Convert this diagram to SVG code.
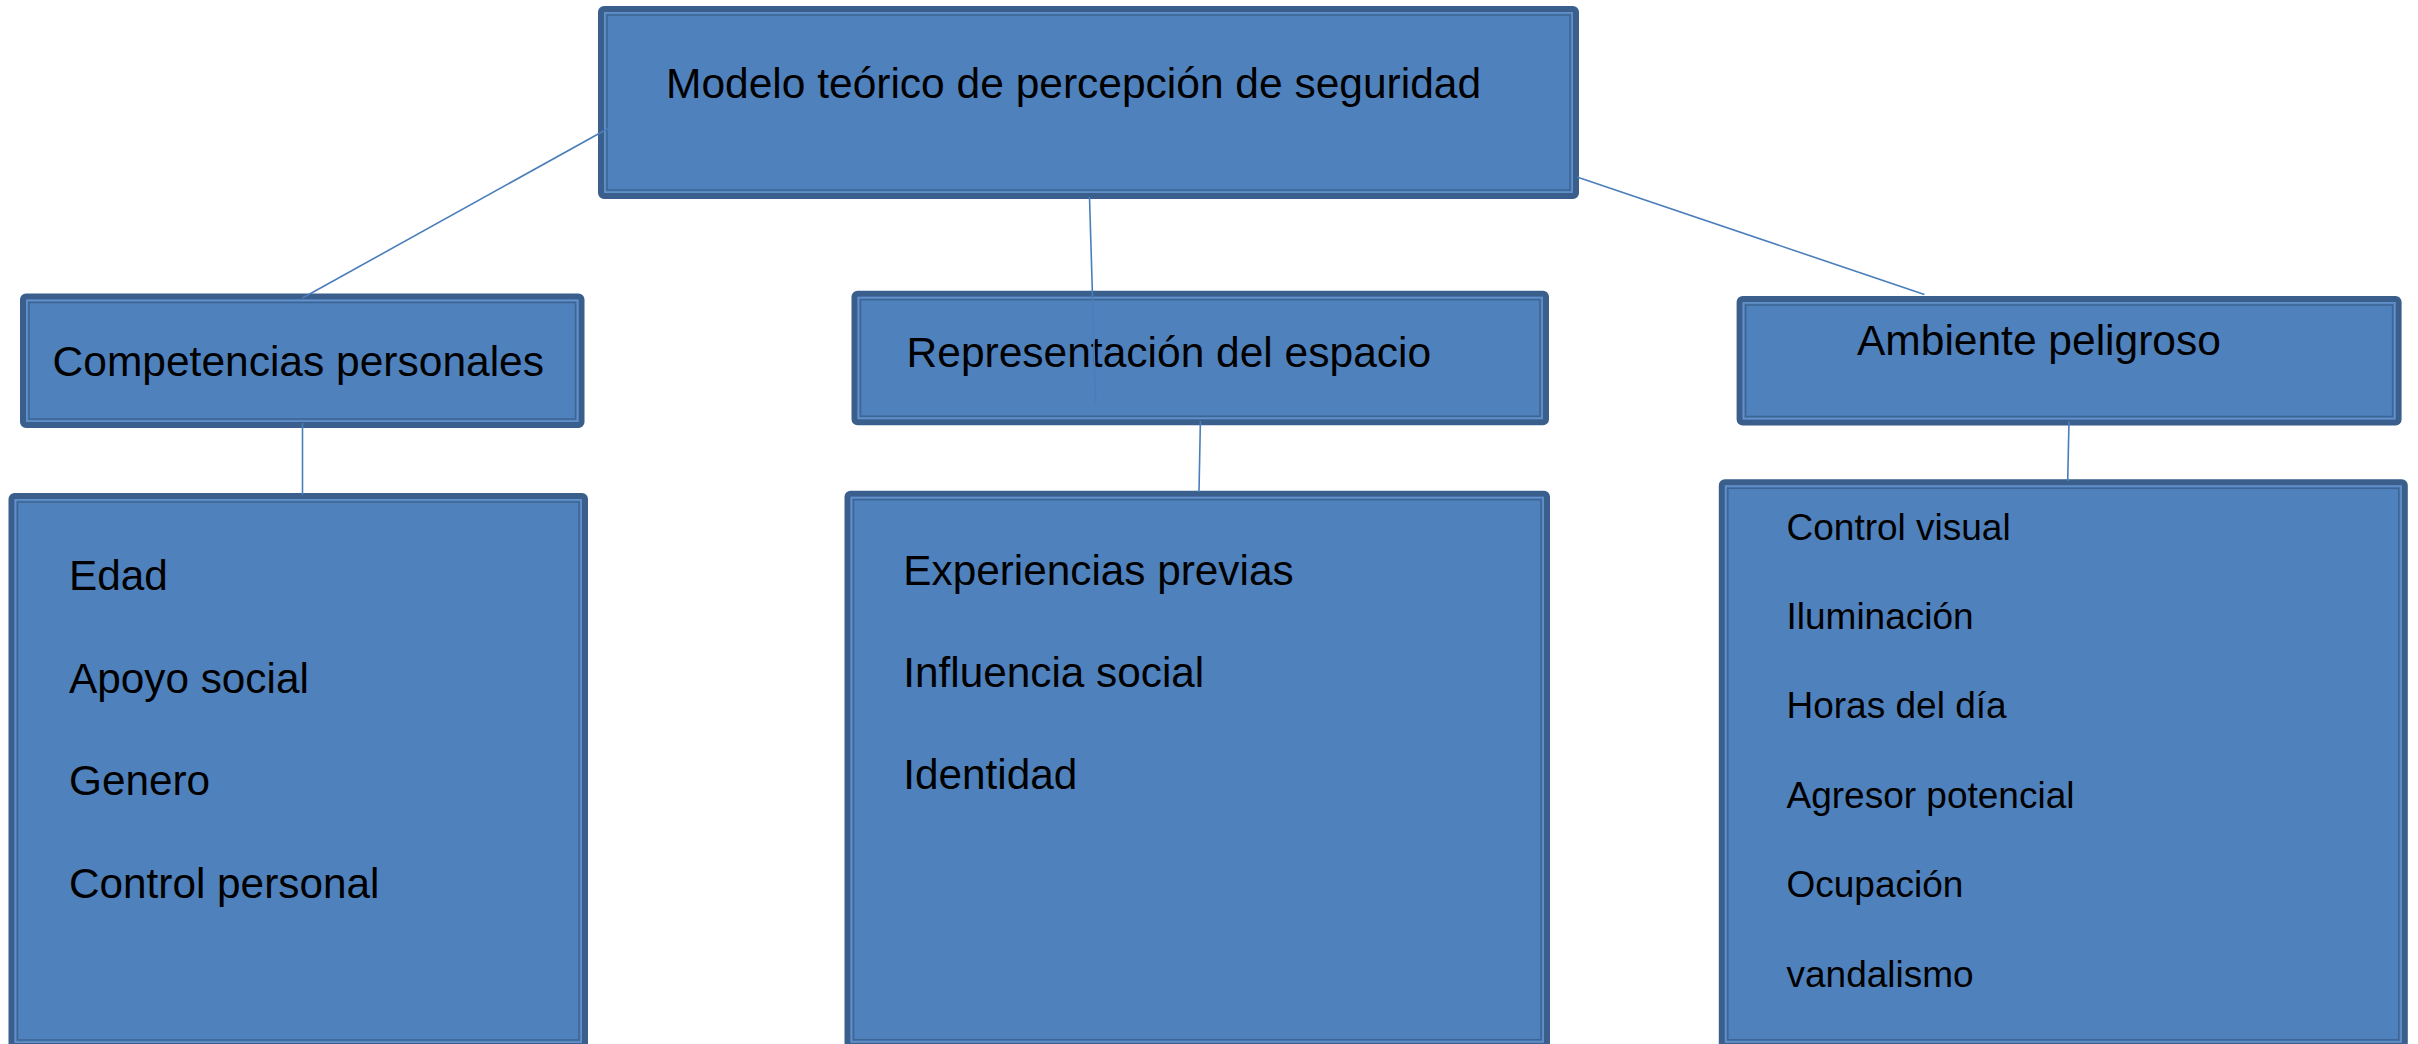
<svg xmlns="http://www.w3.org/2000/svg" width="2418" height="1044" viewBox="0 0 2418 1044">
<style>
.band{fill:#4F81BD;stroke:#3A5F8C;stroke-width:6}
.lite{fill:none;stroke:#6390C9;stroke-width:1.5}
.dark{fill:none;stroke:#3D6593;stroke-width:1.5}
.h{font-family:"Liberation Sans",Arial,sans-serif;font-size:42.5px;fill:#000}
.l{font-family:"Liberation Sans",Arial,sans-serif;font-size:42.3px;fill:#000}
.r{font-family:"Liberation Sans",Arial,sans-serif;font-size:37px;fill:#000}
.c{stroke:#4A7EBB;stroke-width:1.6;fill:none}
</style>
<rect width="2418" height="1044" fill="#FFFFFF"/>
<g id="n-top">
<rect class="band" x="601" y="9" width="975" height="187" rx="3"/>
<rect class="lite" x="604.8" y="12.8" width="967.4" height="179.4"/>
<rect class="dark" x="607" y="15" width="963" height="175"/>
<text class="h" x="666" y="98">Modelo teórico de percepción de seguridad</text>
</g>
<g id="n-competencias">
<rect class="band" x="23" y="296.5" width="558.5" height="128.5" rx="3"/>
<rect class="lite" x="26.8" y="300.3" width="550.9" height="120.9"/>
<rect class="dark" x="29" y="302.5" width="546.5" height="116.5"/>
<text class="h" x="52.6" y="376">Competencias personales</text>
</g>
<g id="n-representacion">
<rect class="band" x="854.5" y="293.7" width="691.5" height="128.5" rx="3"/>
<rect class="lite" x="858.3" y="297.5" width="683.9" height="120.9"/>
<rect class="dark" x="860.5" y="299.7" width="679.5" height="116.5"/>
<text class="h" x="906.6" y="367.3">Representación del espacio</text>
</g>
<g id="n-ambiente">
<rect class="band" x="1739.6" y="299" width="659" height="123.5" rx="3"/>
<rect class="lite" x="1743.4" y="302.8" width="651.4" height="115.9"/>
<rect class="dark" x="1745.6" y="305" width="647" height="111.5"/>
<text class="h" x="1857" y="355">Ambiente peligroso</text>
</g>
<g id="n-lista-competencias">
<rect class="band" x="11.5" y="496" width="573.5" height="550" rx="3"/>
<rect class="lite" x="15.3" y="499.8" width="565.9" height="542.4"/>
<rect class="dark" x="17.5" y="502" width="561.5" height="538"/>
<text class="l" x="69" y="590">Edad</text>
<text class="l" x="69" y="692.5">Apoyo social</text>
<text class="l" x="69" y="795">Genero</text>
<text class="l" x="69" y="897.5">Control personal</text>
</g>
<g id="n-lista-representacion">
<rect class="band" x="847.5" y="493.7" width="699.5" height="552" rx="3"/>
<rect class="lite" x="851.3" y="497.5" width="691.9" height="544.4"/>
<rect class="dark" x="853.5" y="499.7" width="687.5" height="540"/>
<text class="l" x="903.3" y="585">Experiencias previas</text>
<text class="l" x="903.3" y="687">Influencia social</text>
<text class="l" x="903.3" y="789.3">Identidad</text>
</g>
<g id="n-lista-ambiente">
<rect class="band" x="1721.8" y="482.3" width="683" height="563.5" rx="3"/>
<rect class="lite" x="1725.6" y="486.1" width="675.4" height="555.9"/>
<rect class="dark" x="1727.8" y="488.3" width="671" height="551.5"/>
<text class="r" x="1786.5" y="539.5">Control visual</text>
<text class="r" x="1786.5" y="628.9">Iluminación</text>
<text class="r" x="1786.5" y="718.3">Horas del día</text>
<text class="r" x="1786.5" y="807.7">Agresor potencial</text>
<text class="r" x="1786.5" y="897.1">Ocupación</text>
<text class="r" x="1786.5" y="986.5">vandalismo</text>
</g>
<g id="connectors">
<line class="c" x1="609" y1="128" x2="302.5" y2="298"/>
<line class="c" x1="1089.5" y1="197" x2="1095.7" y2="403"/>
<line class="c" x1="1577" y1="177" x2="1924.4" y2="294.5"/>
<line class="c" x1="302.5" y1="423" x2="302.5" y2="495"/>
<line class="c" x1="1200.4" y1="421" x2="1199" y2="492"/>
<line class="c" x1="2069" y1="421" x2="2067.7" y2="481"/>
</g>
</svg>
